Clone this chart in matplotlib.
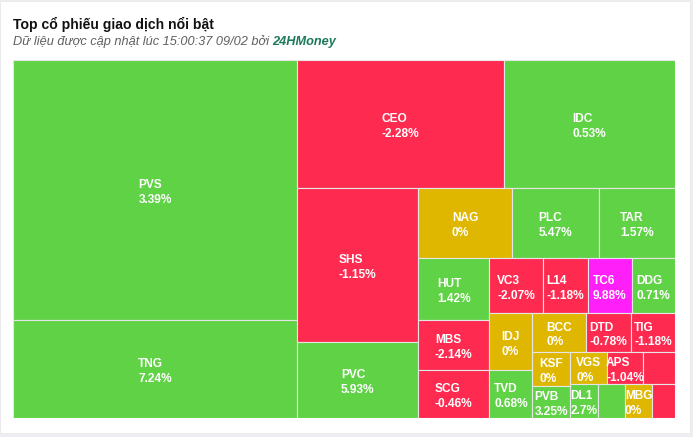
import matplotlib.pyplot as plt
from matplotlib.patches import Rectangle
from matplotlib.text import Annotation

# Dữ liệu treemap (giá trị giao dịch, đơn vị tương đối) - theo thứ tự hiển thị
tickers = ['PVS', 'TNG', 'CEO', 'IDC', 'SHS', 'PVC', 'NAG', 'PLC', 'TAR', 'HUT',
           'MBS', 'SCG', 'VC3', 'L14', 'TC6', 'DDG', 'IDJ', 'TVD', 'BCC', 'DTD',
           'TIG', 'KSF', 'PVB', 'VGS', 'APS', '', 'DL1', '', 'MBG', '']
values = [738.4, 278.3, 265.0, 218.9, 186.3, 92.0, 65.8, 60.9, 53.2, 44.0,
          35.5, 34.1, 29.7, 24.5, 24.5, 23.7, 24.5, 20.6, 20.5, 17.3,
          16.9, 12.9, 12.2, 11.7, 11.7, 10.2, 9.5, 9.2, 9.2, 7.8]
changes = [3.39, 7.24, -2.28, 0.53, -1.15, 5.93, 0, 5.47, 1.57, 1.42,
           -2.14, -0.46, -2.07, -1.18, 9.88, 0.71, 0, 0.68, 0, -0.78,
           -1.18, 0, 3.25, 0, -1.04, None, 2.7, None, 0, None]
trend = ['up', 'up', 'down', 'up', 'down', 'up', 'ref', 'up', 'up', 'up',
         'down', 'down', 'down', 'down', 'ceil', 'up', 'ref', 'up', 'ref', 'down',
         'down', 'ref', 'up', 'ref', 'down', 'down', 'up', 'up', 'ref', 'down']

colors = {'up': '#5fd245', 'down': '#ff2a50', 'ref': '#e0b700', 'ceil': '#ff1ff8'}


def ratio(a, b):
    return max(a / b, b / a)


def squarified(vals, W, H):
    """Thuật toán squarified kiểu Highcharts (đổi hướng sau mỗi nhóm)."""
    total = sum(vals)
    g = dict(width=W, height=H, d=0, tot=0.0, nW=0.0, lW=0.0, nH=0.0, lH=0.0, el=[])
    pos = {'x': 0.0, 'y': 0.0}
    rects = []

    def add(el):
        last = g['el'][-1] if g['el'] else None
        g['tot'] += el
        lr = nr = None
        if g['d'] == 0:
            g['lW'] = g['nW']
            g['nW'] = g['tot'] / g['height']
            if last is not None:
                lr = ratio(g['lW'], last / g['lW'])
                nr = ratio(g['nW'], last / g['nW'])
        else:
            g['lH'] = g['nH']
            g['nH'] = g['tot'] / g['width']
            if last is not None:
                lr = ratio(last / g['lH'], g['lH'])
                nr = ratio(last / g['nH'], g['nH'])
        g['el'].append(el)
        return last is not None and nr > lr

    def flush(is_last):
        gW, gH = (g['nW'], g['nH']) if is_last else (g['lW'], g['lH'])
        items = g['el'] if is_last else g['el'][:-1]
        keep = None if is_last else g['el'][-1]
        for p in items:
            if g['d'] == 0:
                rects.append((pos['x'], pos['y'], gW, p / gW))
                pos['y'] += p / gW
            else:
                rects.append((pos['x'], pos['y'], p / gH, gH))
                pos['x'] += p / gH
        g['el'] = []
        g['tot'] = 0.0
        g['nW'] = g['lW'] = 0.0
        if g['d'] == 0:
            g['width'] -= gW
        else:
            g['height'] -= gH
        pos['x'] = W - g['width']
        pos['y'] = H - g['height']
        g['d'] = 1 - g['d']
        if keep is not None:
            add(keep)

    for i, v in enumerate(vals):
        if add(W * H * v / total):
            flush(False)
        if i == len(vals) - 1:
            flush(True)
    return rects


fig = plt.figure(figsize=(6.93, 4.37), dpi=100, facecolor='#eceef2')
FW, FH = 693, 437

# khung thẻ trắng
fig.patches.append(Rectangle((0, 4 / FH), 690 / FW, 432 / FH, transform=fig.transFigure,
                             facecolor='white', edgecolor='#e8e8e8', lw=0.6, zorder=-5))

fig.text(13 / FW, 1 - 29 / FH, 'Top cổ phiếu giao dịch nổi bật', fontsize=10.1,
         fontweight='bold', family='Liberation Sans', color='#111111', va='baseline')
sub = fig.text(13 / FW, 1 - 45.5 / FH, 'Dữ liệu được cập nhật lúc 15:00:37 09/02 bởi ',
               fontsize=9.2, fontstyle='italic', family='Liberation Sans', color='#5f5f5f',
               va='baseline')
fig.add_artist(Annotation('24HMoney', xy=(1, 0), xycoords=sub, va='bottom', ha='left',
                          fontsize=9.2, fontstyle='italic', fontweight='bold',
                          family='Liberation Sans', color='#1d7a5b'))

# vùng treemap
x0, y0, x1, y1 = 13, 60, 675, 418
ax = fig.add_axes([x0 / FW, 1 - y1 / FH, (x1 - x0) / FW, (y1 - y0) / FH])
W, H = x1 - x0, y1 - y0
ax.set_xlim(0, W)
ax.set_ylim(H, 0)
ax.axis('off')

for (rx, ry, rw, rh), name, chg, tr in zip(squarified(values, W, H), tickers, changes, trend):
    ax.add_patch(Rectangle((rx, ry), rw, rh, facecolor=colors[tr], edgecolor='#e6e6e6', lw=0.8))
    if name:
        ax.text(rx + rw / 2, ry + rh / 2 + 2.5, f'{name}\n{chg:g}%', ha='center', va='center',
                multialignment='left', color='white', fontweight='bold', fontsize=8.6,
                family='Liberation Sans', linespacing=1.3)

fig.savefig('out.png', dpi=100, facecolor=fig.get_facecolor())
